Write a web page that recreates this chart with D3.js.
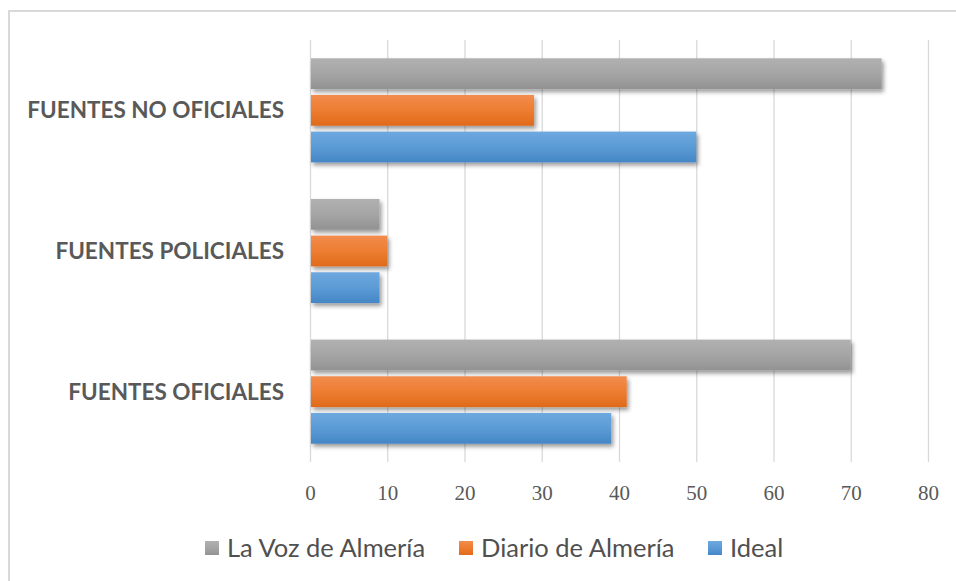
<!DOCTYPE html>
<html>
<head>
<meta charset="utf-8">
<script src="https://cdn.jsdelivr.net/npm/d3@7"></script>
<style>
  body { margin: 0; background: #fff; }
  svg { display: block; }
</style>
</head>
<body>
<svg id="chart"></svg>
<script>
var width = 956;
var height = 581;

// data
var categories = ["FUENTES NO OFICIALES", "FUENTES POLICIALES", "FUENTES OFICIALES"];
var seriesNames = ["La Voz de Almería", "Diario de Almería", "Ideal"];
var laVoz = [74, 9, 70];
var diario = [29, 10, 41];
var ideal = [50, 9, 39];
var ticks = [0, 10, 20, 30, 40, 50, 60, 70, 80];

var seriesValues = [laVoz, diario, ideal];
var colors = [
  { top: "#b1b1b1", mid: "#a5a5a5", bot: "#929292" },
  { top: "#f28c4e", mid: "#ed7d31", bot: "#e06a1b" },
  { top: "#6ea8df", mid: "#5b9bd5", bot: "#4586c6" }
];
var textColor = "#595959";

var svg = d3.select("#chart")
  .attr("width", width)
  .attr("height", height);

var defs = svg.append("defs");
colors.forEach(function(c, i) {
  var g = defs.append("linearGradient")
    .attr("id", "grad" + i)
    .attr("x1", 0).attr("y1", 0).attr("x2", 0).attr("y2", 1);
  g.append("stop").attr("offset", "0%").attr("stop-color", c.top);
  g.append("stop").attr("offset", "50%").attr("stop-color", c.mid);
  g.append("stop").attr("offset", "100%").attr("stop-color", c.bot);
});
defs.append("filter")
  .attr("id", "shadow")
  .attr("x", "-10%").attr("y", "-20%").attr("width", "130%").attr("height", "160%")
  .append("feDropShadow")
  .attr("dx", 2).attr("dy", 3).attr("stdDeviation", 2.2)
  .attr("flood-color", "#000").attr("flood-opacity", 0.4);

// chart frame
svg.append("rect")
  .attr("x", 9).attr("y", 11)
  .attr("width", 980).attr("height", 620)
  .attr("fill", "none")
  .attr("stroke", "#d9d9d9")
  .attr("stroke-width", 2);

var plotTop = 40, plotBottom = 462;

var x = d3.scaleLinear()
  .domain([0, 80])
  .range([310, 928]);

var y0 = d3.scaleBand()
  .domain(categories)
  .range([plotTop, plotBottom])
  .paddingInner(0.26)
  .paddingOuter(0.13);

var y1 = d3.scaleBand()
  .domain(seriesNames)
  .range([0, y0.bandwidth()])
  .paddingInner(0.16);

// gridlines
svg.append("g")
  .selectAll("line")
  .data(ticks)
  .enter()
  .append("line")
  .attr("x1", function(d) { return x(d) + 0.5; })
  .attr("x2", function(d) { return x(d) + 0.5; })
  .attr("y1", plotTop)
  .attr("y2", plotBottom)
  .attr("stroke", "#d9d9d9")
  .attr("stroke-width", 1.3);

// bars
var groups = svg.append("g")
  .selectAll("g")
  .data(categories)
  .enter()
  .append("g")
  .attr("transform", function(d) { return "translate(0," + y0(d) + ")"; });

groups.selectAll("rect")
  .data(function(d, ci) {
    return seriesNames.map(function(s, si) {
      return { series: s, index: si, value: seriesValues[si][ci] };
    });
  })
  .enter()
  .append("rect")
  .attr("x", x(0) + 1)
  .attr("y", function(d) { return y1(d.series); })
  .attr("width", function(d) { return x(d.value) - x(0) - 1; })
  .attr("height", y1.bandwidth())
  .attr("fill", function(d) { return "url(#grad" + d.index + ")"; })
  .attr("filter", "url(#shadow)");

// category labels
svg.append("g")
  .selectAll("text")
  .data(categories)
  .enter()
  .append("text")
  .attr("x", 284)
  .attr("y", function(d) { return y0(d) + y0.bandwidth() / 2; })
  .attr("dy", "0.36em")
  .attr("text-anchor", "end")
  .style("font-family", "Lato, 'Open Sans', sans-serif")
  .style("font-weight", "bold")
  .style("font-size", "22.5px")
  .style("fill", textColor)
  .text(function(d) { return d; });

// x axis labels
var xAxis = d3.axisBottom(x)
  .tickValues(ticks)
  .tickSize(0)
  .tickPadding(0);

var axisG = svg.append("g")
  .attr("transform", "translate(0,485)")
  .call(xAxis);
axisG.select(".domain").remove();
axisG.selectAll("text")
  .attr("dy", "0.71em")
  .style("font-family", "'Liberation Serif', 'DejaVu Serif', serif")
  .style("font-size", "21px")
  .style("fill", textColor);

// legend
var legendX = [205, 459, 708];
var legend = svg.append("g")
  .selectAll("g")
  .data(seriesNames)
  .enter()
  .append("g")
  .attr("transform", function(d, i) { return "translate(" + legendX[i] + ",541)"; });

legend.append("rect")
  .attr("width", 14)
  .attr("height", 14)
  .attr("fill", function(d, i) { return "url(#grad" + i + ")"; });

legend.append("text")
  .attr("x", 22)
  .attr("y", 7)
  .attr("dy", "0.36em")
  .style("font-family", "Lato, 'Open Sans', sans-serif")
  .style("font-size", "25.5px")
  .style("fill", "#505050")
  .text(function(d) { return d; });
</script>
</body>
</html>
